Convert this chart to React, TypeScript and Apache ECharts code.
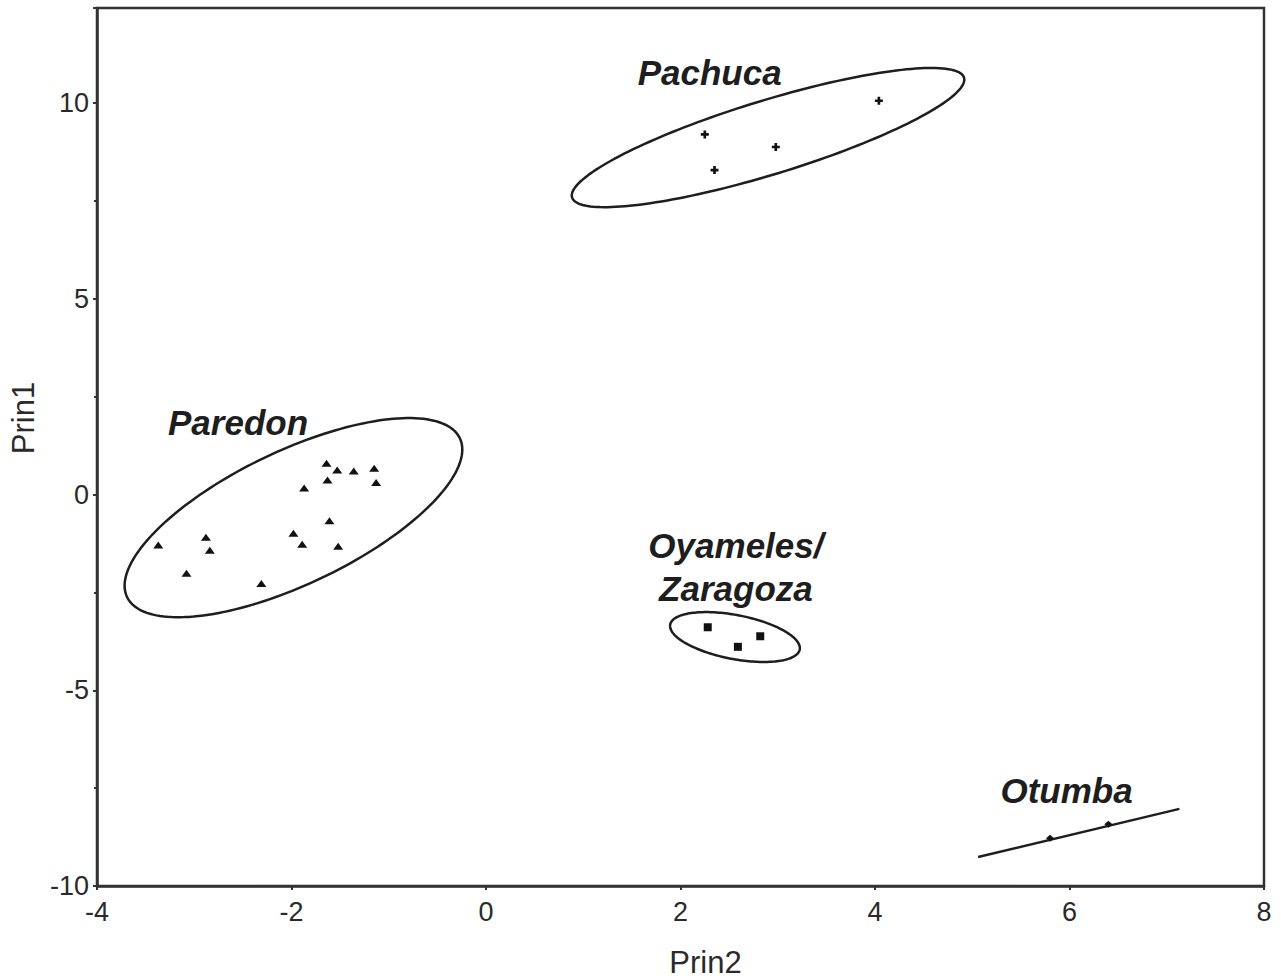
import React, { useEffect, useRef } from "react";
import * as echarts from "echarts";

// ---- data (Prin2 = x, Prin1 = y) ----
const paredonX = [-1.64, -1.53, -1.36, -1.15, -1.63, -1.13, -1.87, -1.61, -1.98, -1.89, -1.52, -3.37, -2.88, -2.84, -3.08, -2.31];
const paredonY = [0.8, 0.63, 0.6, 0.67, 0.37, 0.31, 0.17, -0.67, -0.99, -1.27, -1.32, -1.29, -1.09, -1.42, -2.01, -2.27];
const pachucaX = [4.04, 2.25, 2.98, 2.35];
const pachucaY = [10.06, 9.2, 8.88, 8.29];
const oyamelesX = [2.28, 2.59, 2.82];
const oyamelesY = [-3.39, -3.89, -3.62];
const otumbaX = [5.8, 6.4];
const otumbaY = [-8.78, -8.42];

// Otumba fitted line (degenerate ellipse)
const otumbaLineX = [5.06, 7.13];
const otumbaLineY = [-9.26, -8.03];

// Confidence ellipses: center and two conjugate semi-diameters (data units)
const ellipseNames = ["Pachuca", "Paredon", "Oyameles/Zaragoza"];
const ellipseCenterX = [2.9, -1.98, 2.56];
const ellipseCenterY = [9.12, -0.59, -3.64];
const ellipseUX = [2.015, 1.711, 0.666];
const ellipseUY = [1.531, 2.029, -0.319];
const ellipseVX = [-0.111, -0.295, 0.043];
const ellipseVY = [0.904, 1.535, 0.552];

// Group labels
const labelTexts = ["Pachuca", "Paredon", "Oyameles/\nZaragoza", "Otumba"];
const labelX = [2.3, -2.55, 2.57, 5.97];
const labelY = [10.77, 1.83, -1.84, -7.57];

// Axes
const xMin = -4;
const xMax = 8;
const xInterval = 2;
const yMin = -10;
const yMax = 12.43;
const yInterval = 5;

const FONT = "'Liberation Sans', Arial, sans-serif";
const INK = "#1e1e1e";

const zip = (xs: number[], ys: number[]) => xs.map((x, i) => [x, ys[i]]);

export default function App() {
  const ref = useRef<HTMLDivElement>(null);

  useEffect(() => {
    document.body.style.margin = "0";
    if (!ref.current) return;
    const chart = echarts.init(ref.current, null, { renderer: "svg" });

    const ellipseData = ellipseNames.map((n, i) => ({
      name: n,
      value: [ellipseCenterX[i], ellipseCenterY[i], ellipseUX[i], ellipseUY[i], ellipseVX[i], ellipseVY[i]],
    }));

    const option: any = {
      animation: false,
      backgroundColor: "#fff",
      grid: {
        left: 97,
        right: 17,
        top: 8,
        bottom: 94,
        show: true,
        borderColor: "#333",
        borderWidth: 2.5,
        containLabel: false,
        outerBoundsMode: "none",
      },
      xAxis: {
        type: "value",
        min: xMin,
        max: xMax,
        interval: xInterval,
        name: "Prin2",
        nameLocation: "middle",
        nameGap: 61,
        nameTextStyle: { fontFamily: FONT, fontSize: 31, color: "#2a2a2a", padding: [0, 0, 0, 50] },
        axisLine: { show: true, onZero: false, lineStyle: { color: "#333", width: 2.5 } },
        axisTick: { show: true, length: 4, lineStyle: { color: "#333", width: 2 } },
        axisLabel: { fontFamily: FONT, fontSize: 27, color: "#2a2a2a", margin: 12 },
        splitLine: { show: false },
      },
      yAxis: {
        type: "value",
        min: yMin,
        max: yMax,
        interval: yInterval,
        name: "Prin1",
        nameLocation: "middle",
        nameGap: 56,
        nameRotate: 90,
        nameTextStyle: { fontFamily: FONT, fontSize: 31, color: "#2a2a2a", padding: [0, 0, 0, 58] },
        axisLine: { show: true, onZero: false, lineStyle: { color: "#333", width: 2.5 } },
        axisTick: { show: true, length: 4, lineStyle: { color: "#333", width: 2 } },
        minorTick: { show: true, splitNumber: 2, length: 3, lineStyle: { color: "#333", width: 2 } },
        axisLabel: {
          fontFamily: FONT,
          fontSize: 27,
          color: "#2a2a2a",
          margin: 8,
          formatter: (v: number) => (Math.abs(v - yMax) < 1e-6 ? "" : String(v)),
        },
        splitLine: { show: false },
      },
      series: [
        {
          type: "custom",
          name: "ellipses",
          coordinateSystem: "cartesian2d",
          silent: true,
          data: ellipseData,
          renderItem: (params: any, api: any) => {
            const cx = api.value(0);
            const cy = api.value(1);
            const ux = api.value(2);
            const uy = api.value(3);
            const vx = api.value(4);
            const vy = api.value(5);
            const pts: number[][] = [];
            const N = 180;
            for (let k = 0; k < N; k++) {
              const t = (2 * Math.PI * k) / N;
              const c = Math.cos(t);
              const s = Math.sin(t);
              pts.push(api.coord([cx + c * ux + s * vx, cy + c * uy + s * vy]));
            }
            return {
              type: "polygon",
              shape: { points: pts },
              style: { fill: "none", stroke: INK, lineWidth: 2.5 },
            };
          },
          z: 2,
        },
        {
          type: "line",
          name: "Otumba fit",
          data: zip(otumbaLineX, otumbaLineY),
          symbol: "none",
          lineStyle: { color: INK, width: 2.5 },
          silent: true,
          z: 2,
        },
        {
          type: "scatter",
          name: "Paredon",
          data: zip(paredonX, paredonY),
          symbol: "triangle",
          symbolSize: [10, 7],
          itemStyle: { color: "#111", opacity: 1 },
          z: 3,
        },
        {
          type: "scatter",
          name: "Pachuca",
          data: zip(pachucaX, pachucaY),
          symbol: "path://M2,0H4V2H6V4H4V6H2V4H0V2H2Z",
          symbolSize: 8,
          itemStyle: { color: "#111", opacity: 1 },
          z: 3,
        },
        {
          type: "scatter",
          name: "Oyameles/Zaragoza",
          data: zip(oyamelesX, oyamelesY),
          symbol: "rect",
          symbolSize: 8,
          itemStyle: { color: "#111", opacity: 1 },
          z: 3,
        },
        {
          type: "scatter",
          name: "Otumba",
          data: zip(otumbaX, otumbaY),
          symbol: "diamond",
          symbolSize: [8, 7],
          itemStyle: { color: "#111", opacity: 1 },
          z: 3,
        },
        {
          type: "scatter",
          name: "labels",
          silent: true,
          data: labelTexts.map((t, i) => ({ name: t, value: [labelX[i], labelY[i]] })),
          symbolSize: 1,
          itemStyle: { color: "rgba(0,0,0,0)", opacity: 1 },
          label: {
            show: true,
            position: "inside",
            formatter: (p: any) => p.name,
            fontFamily: FONT,
            fontSize: 35,
            fontStyle: "italic",
            fontWeight: "bold",
            color: INK,
            opacity: 1,
            lineHeight: 43,
            align: "center",
          },
          z: 4,
        },
      ],
    };

    chart.setOption(option);
    return () => chart.dispose();
  }, []);

  return <div ref={ref} style={{ width: 1281, height: 980 }} />;
}
